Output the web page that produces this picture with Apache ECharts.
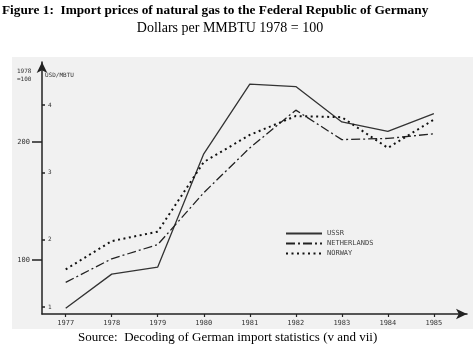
<!DOCTYPE html>
<html><head><meta charset="utf-8">
<script src="https://cdn.jsdelivr.net/npm/echarts@6/dist/echarts.min.js"></script>
<style>html,body{margin:0;padding:0;background:#fff}#c{width:473px;height:356px}</style>
</head><body><div id="c"></div>
<script>
var years = [1977, 1978, 1979, 1980, 1981, 1982, 1983, 1984, 1985];
var ussr = [59, 88, 94, 190, 249, 247, 217, 209, 224];
var netherlands = [81, 101, 113, 157, 195, 227, 202, 203, 207];
var norway = [92, 116, 124, 183, 206, 222, 221, 195, 219];
var indexTicks = [100, 200];
var usdTicks = [1, 2, 3, 4];

function pairs(arr){ return years.map(function(y,i){ return [y, arr[i]]; }); }

var chart = echarts.init(document.getElementById('c'), null, {renderer:'canvas'});
var mono = 'DejaVu Sans Mono';
var option = {
  backgroundColor: '#ffffff',
  animation: false,
  graphic: [
    {type:'rect', z:-10, shape:{x:12, y:57, width:461, height:272}, style:{fill:'#f1f1f1'}},
    {type:'text', left:2, top:4, style:{text:'Figure 1:  Import prices of natural gas to the Federal Republic of Germany', font:'bold 13.3px "Liberation Serif"', fill:'#000'}},
    {type:'text', x:230, y:28, style:{text:'Dollars per MMBTU 1978 = 100', font:'14px "Liberation Serif"', fill:'#000', align:'center', verticalAlign:'middle'}},
    {type:'text', x:78, y:338, style:{text:'Source:  Decoding of German import statistics (v and vii)', font:'13px "Liberation Serif"', fill:'#000', verticalAlign:'middle'}},
    {type:'text', x:17, y:75, style:{text:'1978\n=100', font:'6px "DejaVu Sans Mono"', fill:'#333', lineHeight:8, verticalAlign:'middle'}},
    {type:'text', x:45, y:75, style:{text:'USD/MBTU', font:'6px "DejaVu Sans Mono"', fill:'#333', verticalAlign:'middle'}}
  ],
  legend: {
    orient: 'vertical', left: 280, top: 225,
    itemWidth: 36, itemHeight: 8, itemGap: 3,
    itemStyle: {opacity: 0},
    textStyle: {fontFamily: mono, fontSize: 7, color: '#444'},
    data: ['USSR', 'NETHERLANDS', 'NORWAY']
  },
  grid: {left: 42, right: 6, top: 62, bottom: 42, containLabel: false},
  xAxis: {
    type: 'value', min: 1976.485, max: 1985.72,
    splitLine: {show:false},
    axisLine: {show:true, symbol:['none','arrow'], symbolSize:[8,11], lineStyle:{color:'#222', width:1.5}},
    axisTick: {show:true, customValues: years, length:3, inside:false, lineStyle:{color:'#222', width:1.2}},
    axisLabel: {customValues: years, fontFamily: mono, fontSize: 7, color:'#333', margin:6, formatter: function(v){return String(v);}}
  },
  yAxis: [
    {
      type: 'value', min: 54.2, max: 267.8, position:'left',
      splitLine: {show:false},
      axisLine: {show:true, symbol:['none','arrow'], symbolSize:[8,11], lineStyle:{color:'#222', width:1.5}},
      axisTick: {show:true, customValues: indexTicks, length:10, lineStyle:{color:'#222', width:1.5}},
      axisLabel: {customValues: indexTicks, fontFamily: mono, fontSize: 7, color:'#333', margin:12}
    },
    {
      type: 'value', min: 0.896, max: 4.64, position:'left', offset:0,
      splitLine: {show:false},
      axisLine: {show:false},
      axisTick: {show:true, inside:true, customValues: usdTicks, length:3, lineStyle:{color:'#222', width:1.5}},
      axisLabel: {inside:true, customValues: usdTicks, fontFamily: mono, fontSize: 6, color:'#333', margin:6}
    }
  ],
  series: [
    {name:'USSR', type:'line', yAxisIndex:0, data: pairs(ussr), symbol:'none',
      lineStyle:{color:'#333', width:1.3, type:'solid'}, itemStyle:{color:'#333'}},
    {name:'NETHERLANDS', type:'line', yAxisIndex:0, data: pairs(netherlands), symbol:'none',
      lineStyle:{color:'#222', width:1.3, type:[9,3,2,3]}, itemStyle:{color:'#222'}},
    {name:'NORWAY', type:'line', yAxisIndex:0, data: pairs(norway), symbol:'none',
      lineStyle:{color:'#111', width:2, type:[2,3.5]}, itemStyle:{color:'#111'}}
  ]
};
chart.setOption(option);
</script></body></html>
